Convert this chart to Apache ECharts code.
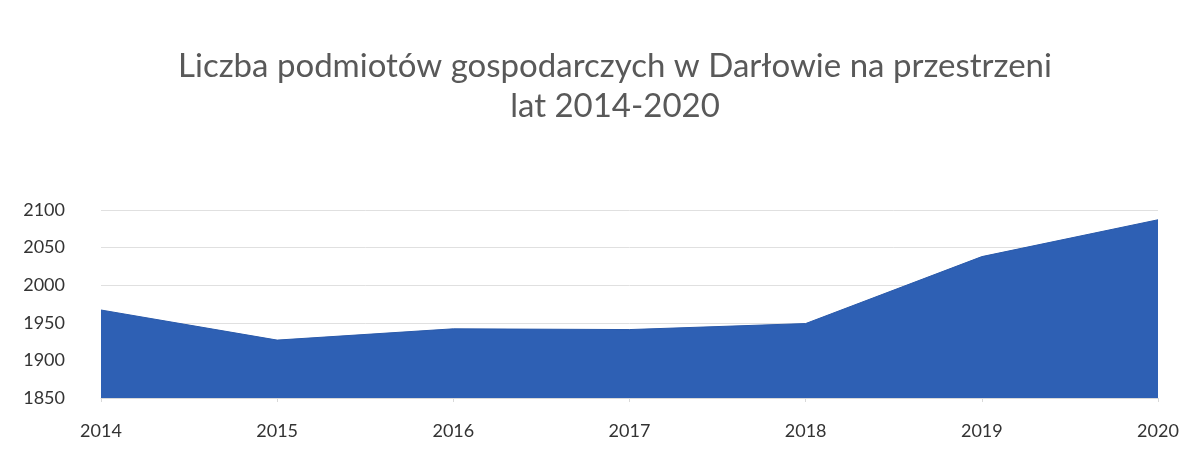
<!DOCTYPE html>
<html><head><meta charset="utf-8">
<script src="https://cdn.jsdelivr.net/npm/echarts@6/dist/echarts.min.js"></script>
<style>html,body{margin:0;padding:0;background:#fff}#c{width:1198px;height:453px}</style>
</head><body><div id="c"></div>
<script>
const categories = ['2014','2015','2016','2017','2018','2019','2020'];
const values = [1967, 1927, 1942, 1941, 1949, 2038, 2087];
const titleLines = ['Liczba podmiotów gospodarczych w Darłowie na przestrzeni', 'lat 2014-2020'];

const chart = echarts.init(document.getElementById('c'));
chart.setOption({
  backgroundColor: '#ffffff',
  title: {
    text: titleLines.join('\n'),
    left: 610, top: 41, textAlign: 'center',
    textStyle: { fontFamily: 'Lato', fontWeight: 'normal', fontSize: 33, color: '#595959', lineHeight: 40 }
  },
  grid: { left: 101, right: 40, top: 210, bottom: 55 },
  xAxis: {
    type: 'category', data: categories, boundaryGap: false,
    axisLine: { lineStyle: { color: '#d9d9d9' } },
    axisTick: { show: true, length: 4, lineStyle: { color: '#d9d9d9' } },
    axisLabel: { color: '#333333', fontSize: 18, fontFamily: 'Lato', margin: 24 }
  },
  yAxis: {
    type: 'value', min: 1850, max: 2100, interval: 50,
    axisLine: { show: false }, axisTick: { show: false },
    axisLabel: { color: '#333333', fontSize: 18, fontFamily: 'Lato', margin: 36, formatter: v => String(v) },
    splitLine: { lineStyle: { color: '#e0e0e0' } }
  },
  series: [{
    type: 'line', data: values, symbol: 'none',
    lineStyle: { color: '#2a5aab', width: 1 },
    areaStyle: { color: '#2e60b4', opacity: 1 }
  }]
});
</script></body></html>
